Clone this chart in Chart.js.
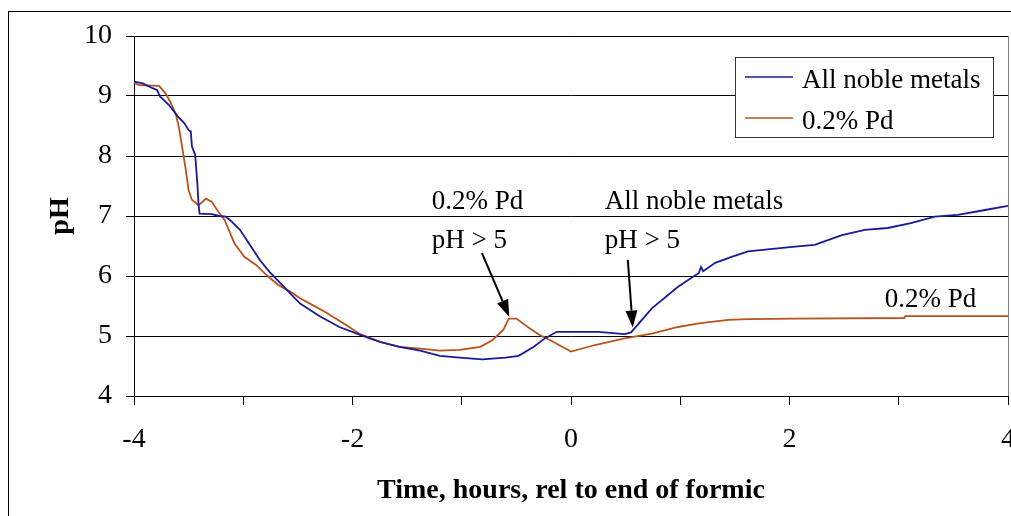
<!DOCTYPE html>
<html>
<head>
<meta charset="utf-8">
<script src="https://cdn.jsdelivr.net/npm/chart.js@4"></script>
<style>
  html, body { margin: 0; padding: 0; background: #fff; overflow: hidden; }
  #wrap { width: 1040px; height: 516px; }
</style>
</head>
<body>
<div id="wrap"><canvas id="phChart" width="1040" height="516"></canvas></div>
<script>
// pH logs, time in hours relative to end of formic addition
const seriesNames = ['All noble metals', '0.2% Pd'];

const nobleTime = [-4.00, -3.92, -3.83, -3.79, -3.76, -3.68, -3.60, -3.54, -3.50, -3.48, -3.47, -3.44, -3.42, -3.41, -3.40,
  -3.29, -3.22, -3.16, -3.12, -3.03, -2.94, -2.85, -2.76, -2.66, -2.57, -2.48, -2.30, -2.12, -1.93, -1.75, -1.57, -1.38,
  -1.20, -1.02, -0.81, -0.60, -0.48, -0.34, -0.24, -0.13, 0.25, 0.49, 0.55, 0.74, 0.98, 1.17, 1.19, 1.21, 1.32, 1.47,
  1.62, 2.05, 2.23, 2.48, 2.69, 2.90, 3.11, 3.33, 3.54, 3.79, 4.00];
const noblePh = [9.24, 9.21, 9.13, 9.10, 8.99, 8.85, 8.66, 8.55, 8.43, 8.41, 8.16, 8.02, 7.54, 7.21, 7.04,
  7.03, 7.00, 6.99, 6.93, 6.77, 6.52, 6.27, 6.07, 5.88, 5.71, 5.54, 5.33, 5.15, 5.02, 4.90, 4.82, 4.755,
  4.67, 4.64, 4.61, 4.64, 4.67, 4.82, 4.96, 5.07, 5.07, 5.03, 5.06, 5.46, 5.82, 6.05, 6.15, 6.08, 6.22, 6.32,
  6.41, 6.49, 6.52, 6.68, 6.77, 6.80, 6.88, 6.99, 7.02, 7.10, 7.17];

const pdTime = [-4.00, -3.95, -3.77, -3.71, -3.67, -3.62, -3.59, -3.56, -3.53, -3.50, -3.47, -3.41, -3.34, -3.29, -3.22,
  -3.17, -3.08, -2.99, -2.88, -2.79, -2.68, -2.57, -2.48, -2.39, -2.25, -2.08, -1.93, -1.75, -1.57, -1.38, -1.20,
  -1.02, -0.83, -0.72, -0.62, -0.57, -0.50, -0.38, -0.29, -0.19, 0.00, 0.22, 0.49, 0.74, 0.98, 1.17, 1.44, 1.62,
  2.05, 3.05, 3.06, 4.00];
const pdPh = [9.22, 9.18, 9.17, 9.04, 8.91, 8.71, 8.49, 8.16, 7.82, 7.43, 7.27, 7.18, 7.29, 7.24, 7.05,
  6.93, 6.54, 6.32, 6.18, 6.02, 5.85, 5.74, 5.63, 5.54, 5.40, 5.21, 5.03, 4.905, 4.82, 4.79, 4.755,
  4.77, 4.82, 4.93, 5.10, 5.29, 5.29, 5.13, 5.02, 4.93, 4.74, 4.85, 4.96, 5.04, 5.15, 5.21, 5.27, 5.28,
  5.29, 5.30, 5.33, 5.33];

const xLabelled = [-4, -2, 0, 2, 4];
const phLabelled = [4, 5, 6, 7, 8, 9, 10];

const serif = '"Liberation Serif", "Times New Roman", serif';
const blue = '#1a1a96';
const orange = '#b9531c';

const toPoints = (xs, ys) => xs.map((x, i) => ({ x: x, y: ys[i] }));

// page frame + white background
const framePlugin = {
  id: 'frame',
  beforeDraw(chart) {
    const { ctx, width, height } = chart;
    ctx.save();
    ctx.fillStyle = '#fff';
    ctx.fillRect(0, 0, width, height);
    ctx.strokeStyle = '#000';
    ctx.lineWidth = 1;
    ctx.strokeRect(8.5, 11.5, width + 40, height + 40);
    ctx.restore();
  }
};

function arrow(ctx, x1, y1, x2, y2) {
  const ang = Math.atan2(y2 - y1, x2 - x1);
  const len = 17, half = 6;
  const bx = x2 - len * Math.cos(ang), by = y2 - len * Math.sin(ang);
  ctx.beginPath();
  ctx.moveTo(x1, y1);
  ctx.lineTo(bx, by);
  ctx.stroke();
  ctx.beginPath();
  ctx.moveTo(x2, y2);
  ctx.lineTo(bx + half * Math.sin(ang), by - half * Math.cos(ang));
  ctx.lineTo(bx - half * Math.sin(ang), by + half * Math.cos(ang));
  ctx.closePath();
  ctx.fill();
}

// callouts: text anchored in data units, arrows from text to the curve
const notes = [
  { lines: ['0.2% Pd', 'pH > 5'], x: -1.274, y: 7.117, from: [-0.815, 6.38], to: [-0.565, 5.32] },
  { lines: ['All noble metals', 'pH > 5'], x: 0.309, y: 7.117, from: [0.52, 6.27], to: [0.565, 5.14] },
  { lines: ['0.2% Pd'], x: 2.871, y: 5.488 }
];

const extrasPlugin = {
  id: 'extras',
  afterDraw(chart) {
    const { ctx, chartArea: a, scales: { x, y } } = chart;
    ctx.save();

    // right edge of plot area
    ctx.strokeStyle = '#808080';
    ctx.lineWidth = 1;
    ctx.beginPath();
    ctx.moveTo(Math.round(a.right) + 0.5, a.top);
    ctx.lineTo(Math.round(a.right) + 0.5, a.bottom);
    ctx.stroke();

    // legend box
    const bx = a.right - 273, by = a.top + 21, bw = 258, bh = 80;
    ctx.fillStyle = '#fff';
    ctx.fillRect(bx, by, bw, bh);
    ctx.strokeStyle = '#333';
    ctx.strokeRect(bx + 0.5, by + 0.5, bw, bh);
    ctx.font = '27px ' + serif;
    ctx.textBaseline = 'alphabetic';
    ctx.textAlign = 'left';
    chart.data.datasets.forEach((ds, i) => {
      const ly = by + 20 + i * 41;
      ctx.strokeStyle = ds.borderColor;
      ctx.lineWidth = 1.5;
      ctx.beginPath();
      ctx.moveTo(bx + 10, ly);
      ctx.lineTo(bx + 58, ly);
      ctx.stroke();
      ctx.fillStyle = '#000';
      ctx.fillText(ds.label, bx + 67, ly + 11);
    });

    // callouts
    ctx.fillStyle = '#000';
    ctx.strokeStyle = '#000';
    ctx.lineWidth = 2;
    notes.forEach(n => {
      const px = x.getPixelForValue(n.x), py = y.getPixelForValue(n.y);
      n.lines.forEach((t, i) => ctx.fillText(t, px, py + i * 39));
      if (n.from) {
        arrow(ctx, x.getPixelForValue(n.from[0]), y.getPixelForValue(n.from[1]),
          x.getPixelForValue(n.to[0]), y.getPixelForValue(n.to[1]));
      }
    });
    ctx.restore();
  }
};

new Chart(document.getElementById('phChart'), {
  type: 'scatter',
  data: {
    datasets: [
      { label: seriesNames[0], data: toPoints(nobleTime, noblePh), borderColor: blue, backgroundColor: blue },
      { label: seriesNames[1], data: toPoints(pdTime, pdPh), borderColor: orange, backgroundColor: orange }
    ].map(d => Object.assign(d, { showLine: true, pointRadius: 0, borderWidth: 1.8, tension: 0 }))
  },
  options: {
    responsive: false,
    animation: false,
    events: [],
    layout: { padding: { top: 36, right: 32, left: 0, bottom: 0 } },
    plugins: { legend: { display: false }, tooltip: { enabled: false } },
    scales: {
      x: {
        type: 'linear',
        min: -4,
        max: 4,
        afterFit: s => { s.height = 120; },
        ticks: {
          stepSize: 1,
          autoSkip: false,
          maxRotation: 0,
          padding: 18,
          color: '#000',
          font: { family: serif, size: 28 },
          callback: v => xLabelled.includes(v) ? String(v) : ''
        },
        grid: { drawOnChartArea: false, color: '#000', tickLength: 9 },
        border: { color: '#000', width: 1 },
        title: {
          display: true,
          text: 'Time, hours, rel to end of formic',
          color: '#000',
          font: { family: serif, size: 28, weight: 'bold' },
          padding: { top: 0, bottom: 8 }
        }
      },
      y: {
        min: 4,
        max: 10,
        afterFit: s => { s.width = 134; },
        ticks: {
          stepSize: 0.5,
          padding: 14,
          color: '#000',
          font: { family: serif, size: 28 },
          callback: v => phLabelled.includes(v) ? String(v) : ''
        },
        grid: {
          color: c => phLabelled.includes(c.tick.value) ? '#000' : 'rgba(0,0,0,0)',
          tickColor: '#000',
          tickLength: 8
        },
        border: { color: '#000', width: 1 },
        title: {
          display: true,
          text: 'pH',
          color: '#000',
          font: { family: serif, size: 28, weight: 'bold' },
          padding: { top: 44, bottom: 0 }
        }
      }
    }
  },
  plugins: [framePlugin, extrasPlugin]
});
</script>
</body>
</html>
